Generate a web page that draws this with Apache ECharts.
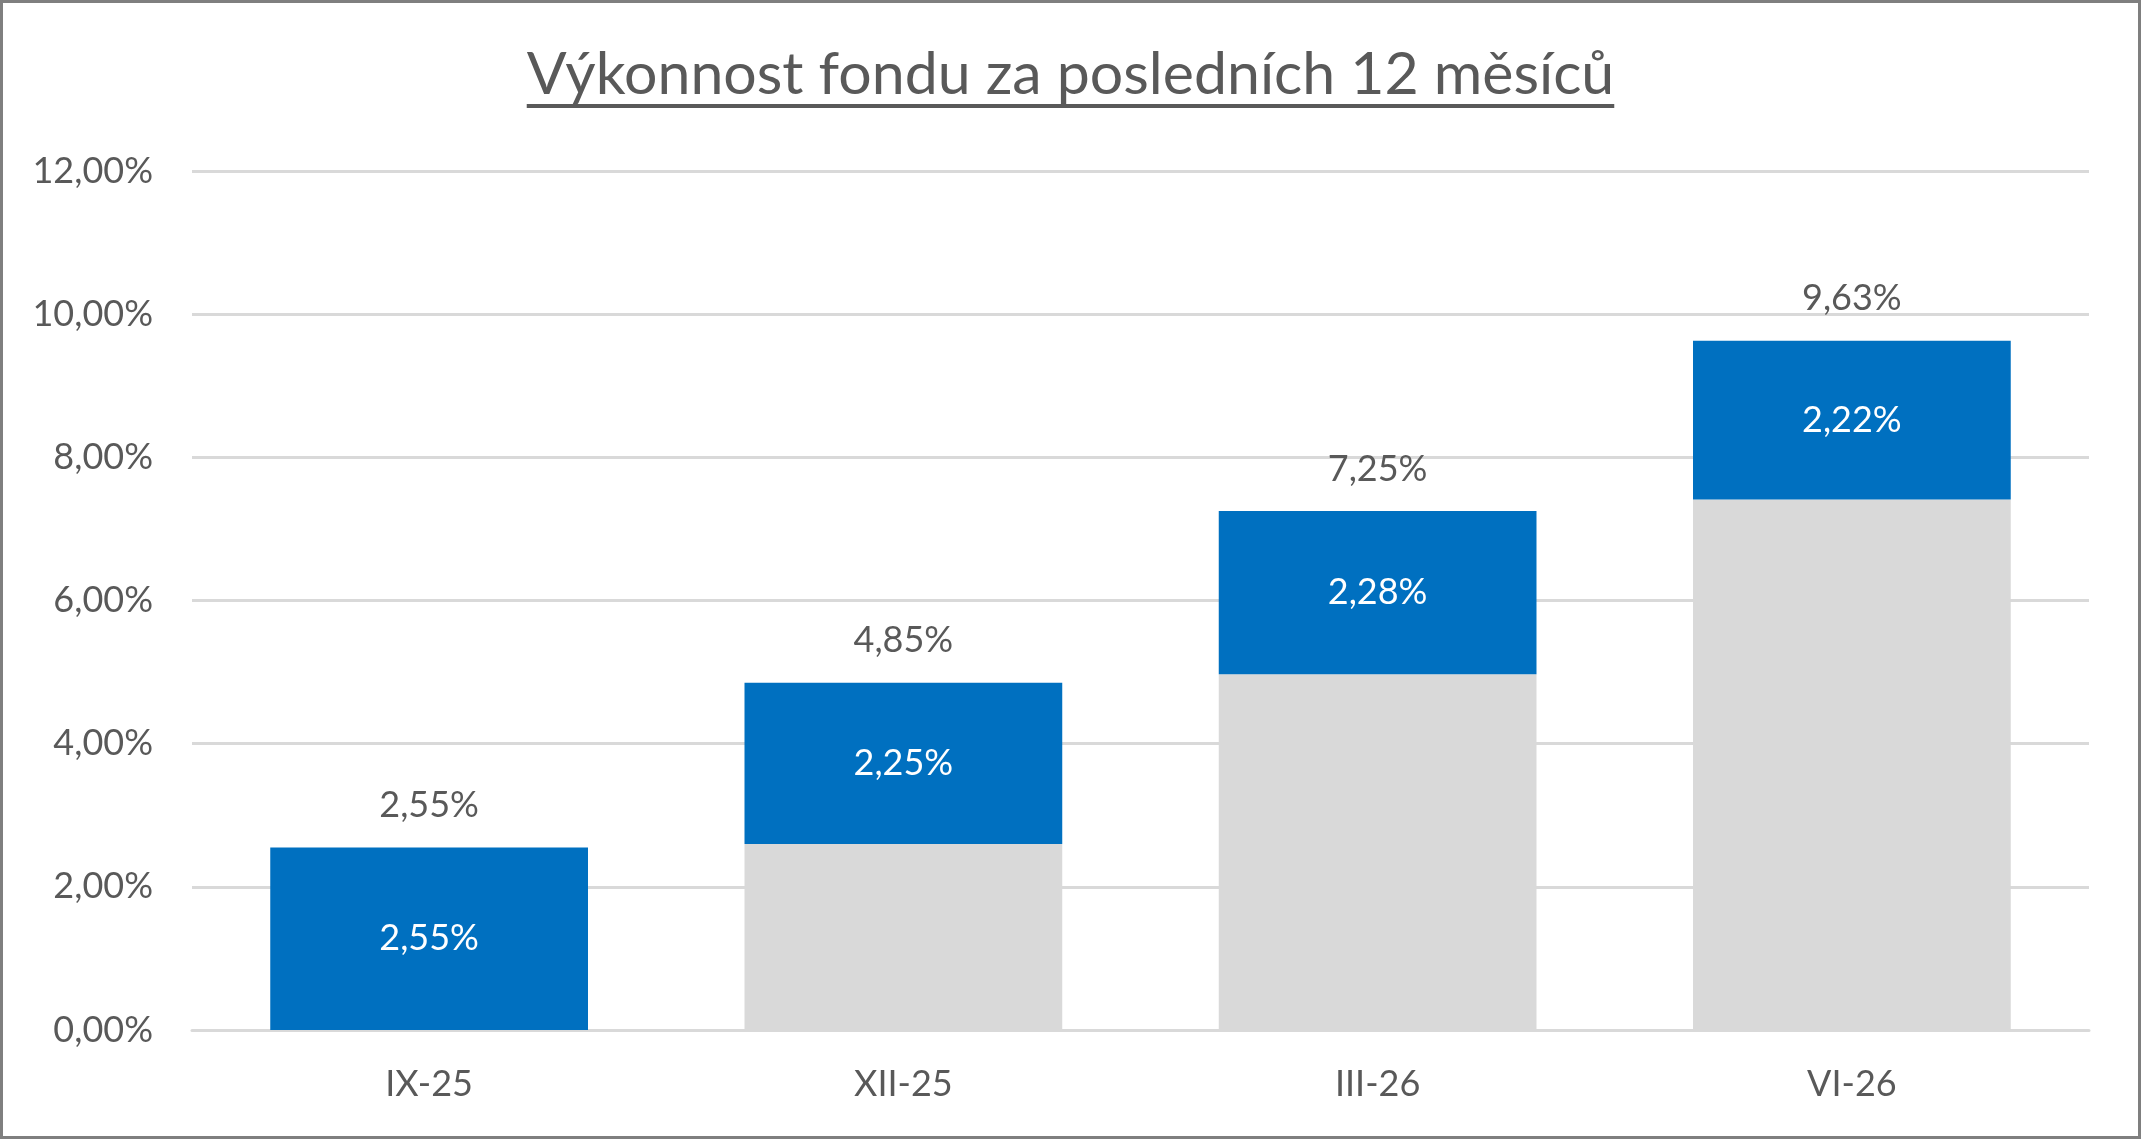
<!DOCTYPE html>
<html>
<head>
<meta charset="utf-8">
<script src="https://cdn.jsdelivr.net/npm/echarts@6/dist/echarts.min.js"></script>
<style>
  html, body { margin: 0; padding: 0; background: #fff; }
  #main { width: 2141px; height: 1139px; box-sizing: border-box; border: 3px solid #7f7f7f; background: #fff; }
</style>
</head>
<body>
<div id="main"></div>
<script>
// data
var categories = ['IX-25', 'XII-25', 'III-26', 'VI-26'];
var baseValues = [0, 2.60, 4.97, 7.41];      // grey part (earlier growth)
var quarterValues = [2.55, 2.25, 2.28, 2.22]; // blue part (quarter growth)
var totalValues = [2.55, 4.85, 7.25, 9.63];   // labels above bars

var titleText = 'Výkonnost fondu za posledních 12 měsíců';
var fontName = 'Lato';
var textColor = '#595959';

function pct(v) {
  return Number(v).toFixed(2).replace('.', ',') + '%';
}

var chartDom = document.getElementById('main');
var myChart = echarts.init(chartDom);

// underline under the title (echarts has no text-decoration)
var titleSize = 59;
var ctx = document.createElement('canvas').getContext('2d');
ctx.font = titleSize + 'px ' + fontName;
var titleW = ctx.measureText(titleText).width;
var cx = chartDom.clientWidth / 2;

var option = {
  animation: false,
  title: {
    text: titleText,
    left: 'center',
    top: 37,
    textStyle: { fontFamily: fontName, fontSize: titleSize, fontWeight: 'normal', color: textColor }
  },
  graphic: [{
    type: 'line',
    shape: { x1: cx - titleW / 2, y1: 103, x2: cx + titleW / 2, y2: 103 },
    style: { stroke: textColor, lineWidth: 4 }
  }],
  grid: { left: 189, right: 49, top: 168, bottom: 106 },
  xAxis: {
    type: 'category',
    data: categories,
    axisTick: { show: false },
    axisLine: { lineStyle: { color: '#d9d9d9', width: 3 } },
    axisLabel: { fontFamily: fontName, fontSize: 36, color: textColor, margin: 36 }
  },
  yAxis: {
    type: 'value',
    min: 0,
    max: 12,
    interval: 2,
    axisLine: { show: false },
    axisTick: { show: false },
    splitLine: { lineStyle: { color: '#d9d9d9', width: 3 } },
    axisLabel: {
      fontFamily: fontName, fontSize: 36, color: textColor, margin: 39,
      formatter: function (v) { return pct(v); }
    }
  },
  series: [
    {
      name: 'base',
      type: 'bar',
      stack: 'total',
      barCategoryGap: '33%',
      data: baseValues,
      itemStyle: { color: '#d9d9d9' },
      silent: true
    },
    {
      name: 'quarter',
      type: 'bar',
      stack: 'total',
      data: quarterValues,
      itemStyle: { color: '#0070c0' },
      label: {
        show: true,
        position: 'inside',
        fontFamily: fontName,
        fontSize: 36,
        color: '#ffffff',
        formatter: function (p) { return pct(p.value); }
      }
    },
    {
      name: 'total',
      type: 'bar',
      barGap: '-100%',
      data: totalValues,
      z: 1,
      itemStyle: { color: 'rgba(0,0,0,0)' },
      silent: true,
      label: {
        show: true,
        position: 'top',
        distance: 24,
        fontFamily: fontName,
        fontSize: 36,
        color: textColor,
        formatter: function (p) { return pct(p.value); }
      }
    }
  ]
};

option && myChart.setOption(option);
</script>
</body>
</html>
